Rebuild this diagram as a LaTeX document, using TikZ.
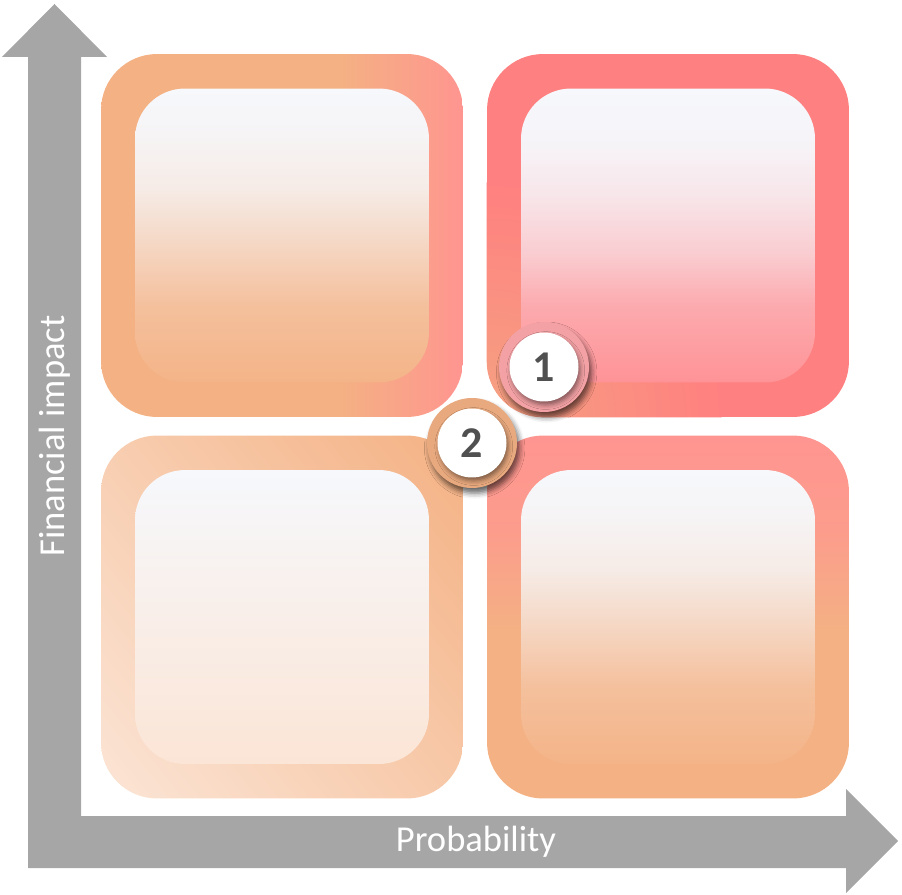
\documentclass[tikz,border=0pt]{standalone}
\usepackage{fontspec}
\setmainfont{Carlito}
\usetikzlibrary{shadings,shadows.blur}

\definecolor{axisgray}{HTML}{A6A6A6}
\definecolor{orng}{HTML}{F4B183}
\definecolor{orngB}{HTML}{F5A282}
\definecolor{salmon}{HTML}{FF9590}
\definecolor{coral}{HTML}{FF8080}
\definecolor{rose}{HTML}{FE9397}
\definecolor{peach}{HTML}{FBE5D6}
\definecolor{paper}{HTML}{F6F8FC}
\definecolor{digit}{HTML}{505050}
\definecolor{ringone}{HTML}{F3A1A4}
\definecolor{ringtwo}{HTML}{E9A97E}

% Verlaeufe der Felder
\pgfdeclarehorizontalshading{tlring}{100bp}{color(0bp)=(orng); color(58bp)=(orng); color(75bp)=(salmon); color(100bp)=(salmon)}
\pgfdeclareverticalshading{brring}{100bp}{color(0bp)=(orng); color(48bp)=(orng); color(62bp)=(salmon!75!orng); color(75bp)=(salmon); color(100bp)=(salmon)}
\pgfdeclareverticalshading{warmfill}{100bp}{color(0bp)=(orng); color(25bp)=(orng!96!paper); color(38bp)=(orng!79!paper); color(49bp)=(orng!45!paper); color(58bp)=(orng!18!paper); color(67bp)=(orng!6!paper); color(75bp)=(paper); color(100bp)=(paper)}
\pgfdeclareverticalshading{rosefill}{100bp}{color(0bp)=(rose); color(25bp)=(rose); color(38bp)=(rose!77!paper); color(47bp)=(rose!43!paper); color(57bp)=(rose!18!paper); color(65bp)=(rose!5!paper); color(75bp)=(paper); color(100bp)=(paper)}
\pgfdeclareverticalshading{peachfill}{100bp}{color(0bp)=(peach); color(25bp)=(peach); color(50bp)=(peach!50!paper); color(75bp)=(paper); color(100bp)=(paper)}

\begin{document}
\begin{tikzpicture}[
  x=0.02cm, y=-0.02cm,
  outerbox/.style={rectangle,rounded corners=1.12cm,minimum width=7.24cm,minimum height=7.26cm,inner sep=0pt},
  innerbox/.style={rectangle,rounded corners=1cm,minimum size=5.88cm,inner sep=0pt},
  badgering/.style={circle,minimum size=1.8cm,inner sep=0pt,
    blur shadow={shadow xshift=1.5pt,shadow yshift=-3pt,shadow blur radius=3pt,shadow opacity=60}},
  badgedisc/.style={circle,fill=white,minimum size=1.38cm,inner sep=0pt,text=digit,
    font=\fontsize{25}{25}\selectfont\bfseries,
    blur shadow={shadow xshift=1pt,shadow yshift=-2pt,shadow blur radius=2.5pt,shadow opacity=45}},
  axislabel/.style={text=white,font=\fontsize{20.8}{24}\selectfont}
]
\useasboundingbox (0,0) rectangle (902,895);

% Achsen
\fill[axisgray] (28,868) -- (28,57) -- (2,57) -- (54.5,4) -- (107,57) -- (81,57)
  -- (81,816) -- (846,816) -- (846,789) -- (898,841) -- (846,893) -- (846,868) -- cycle;
\node[axislabel,rotate=90] (ylab) at (54.5,436) {Financial impact};
\node[axislabel] (xlab) at (476,842) {Probability};

% aeussere Rahmen
\node[outerbox,shading=tlring] (tlo) at (282,235.5) {};
\node[outerbox,fill=coral] (tro) at (668,235.5) {};
\node[outerbox,upper left=peach!55!orng,upper right=orng,lower left=peach,lower right=peach!45!orng] (blo) at (282,617) {};
\node[outerbox,shading=brring] (bro) at (668,617) {};

% rechts oben: warmer Schimmer unten links
\begin{scope}
  \clip[rounded corners=1.12cm] (tro.south west) rectangle (tro.north east);
  \shade[inner color=orngB,outer color=coral] (tro.south west) circle[radius=235];
\end{scope}

% innere Felder
\node[innerbox,shading=warmfill] (tli) at (tlo.center) {};
\node[innerbox,shading=rosefill] (tri) at (tro.center) {};
\node[innerbox,shading=peachfill] (bli) at (blo.center) {};
\node[innerbox,shading=warmfill] (bri) at (bro.center) {};

% Markierungen
\node[badgering,fill=ringone] (b1) at (544,367) {};
\node[badgedisc] (n1) at (b1.center) {1};
\node[badgering,fill=ringtwo] (b2) at (472,443) {};
\node[badgedisc] (n2) at (b2.center) {2};

\end{tikzpicture}
\end{document}
